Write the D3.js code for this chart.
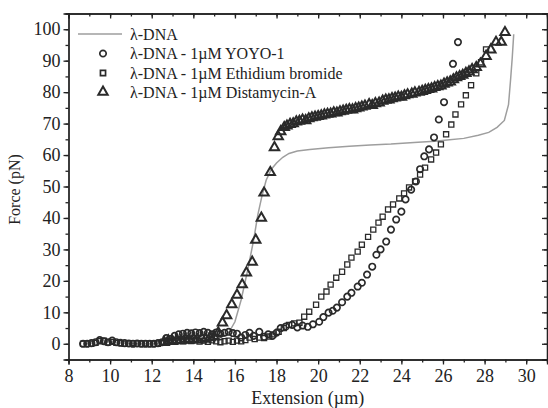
<!DOCTYPE html>
<html>
<head>
<meta charset="utf-8">
<script src="https://cdn.jsdelivr.net/npm/d3@7"></script>
<style>
  body { margin: 0; background: #fff; }
  text { font-family: "Liberation Serif", "Times New Roman", serif; fill: #222; }
  .axis path, .axis line { stroke: #222; stroke-width: 1.3; }
  .axis text { font-size: 18px; }
</style>
</head>
<body>
<div id="container"></div>
<script>
// λ-DNA (grey line)
const dnaX = [14.5, 15.2, 15.7, 16.0, 16.3, 16.6, 16.9, 17.1, 17.3, 17.5, 17.75, 18.0, 18.3, 18.6, 19.0, 19.6, 20.5, 21.5, 22.5, 23.5, 24.8, 25.6, 26.2, 27.0, 27.7, 28.2, 28.6, 28.95, 29.15, 29.25, 29.33, 29.4];
const dnaY = [0.5, 1.5, 3.5, 7, 14, 23, 33, 41, 47, 52, 55.5, 57.5, 59.3, 60.5, 61.3, 61.8, 62.3, 62.8, 63.2, 63.5, 64.1, 64.4, 64.8, 65.3, 66.3, 67.2, 68.8, 71, 76, 84, 91, 98.4];

// λ-DNA - 1µM YOYO-1 (circles)
const yoyoX = [8.7, 8.9, 9.1, 9.3, 9.5, 9.7, 9.9, 10.1, 10.3, 10.5, 10.7, 10.9, 11.1, 11.3, 11.5, 11.7, 11.9, 12.1, 12.3, 12.5, 12.7, 12.9, 13.1, 13.3, 13.5, 13.7, 13.9, 14.1, 14.3, 14.5, 14.7, 14.9, 15.1, 15.3, 15.5, 15.7, 15.9, 16.1, 16.3, 16.5, 16.7, 16.9, 17.17, 17.4, 17.6, 17.8, 18.0, 18.2, 18.45, 18.75, 19.0, 19.25, 19.5, 19.75, 20.05, 20.25, 20.5, 20.7, 20.9, 21.15, 21.4, 21.6, 21.9, 22.1, 22.35, 22.6, 22.8, 23.0, 23.27, 23.5, 23.75, 24.0, 24.2, 24.47, 24.7, 24.9, 25.1, 25.33, 25.57, 25.8, 26.05, 26.48, 26.72];
const yoyoY = [0, 0, 0.2, 0.5, 1.2, 0.8, 0.5, 1.0, 0.5, 0.3, 0.2, 0.1, 0, 0.1, 0, 0, 0, 0, 0.2, 0.5, 1.8, 1.5, 2.5, 3.0, 3.2, 3.5, 3.3, 3.6, 3.4, 3.8, 3.5, 3.0, 3.6, 3.2, 3.5, 3.8, 3.4, 3.2, 2.0, 2.8, 3.5, 2.5, 3.8, 2.2, 3.0, 2.5, 3.5, 5.0, 5.5, 6.0, 5.2, 5.8, 5.4, 6.2, 7.0, 8.5, 9.9, 10.5, 11.5, 13.2, 15.0, 16.2, 18.2, 19.4, 22.0, 24.5, 28.3, 30.0, 32.5, 36.3, 39.5, 42.0, 45.9, 49.0, 51.6, 55.5, 59.6, 61.8, 65.6, 71.3, 76.8, 89.0, 95.9];

// λ-DNA - 1µM Ethidium bromide (squares)
const etbrX = [8.7, 8.9, 9.1, 9.3, 9.5, 9.7, 9.9, 10.1, 10.3, 10.5, 10.7, 10.9, 11.1, 11.3, 11.5, 11.7, 11.9, 12.1, 12.3, 12.5, 12.7, 12.9, 13.1, 13.3, 13.5, 13.7, 13.9, 14.1, 14.3, 14.5, 14.7, 14.9, 15.1, 15.3, 15.5, 15.7, 15.9, 16.1, 16.3, 16.5, 16.7, 16.95, 17.17, 17.4, 17.65, 17.85, 18.1, 18.35, 18.6, 18.85, 19.1, 19.33, 19.57, 19.9, 20.15, 20.4, 20.6, 20.87, 21.15, 21.4, 21.6, 21.9, 22.1, 22.4, 22.65, 22.9, 23.1, 23.36, 23.6, 23.9, 24.13, 24.37, 24.66, 24.9, 25.14, 25.43, 25.67, 25.9, 26.15, 26.4, 26.6, 26.87, 27.1, 27.35, 27.6, 27.83, 28.07];
const etbrY = [0, 0, 0, 0.3, 0.8, 1.0, 0.4, 0.6, 0.3, 0.2, 0, 0, 0.2, 0, 0, 0.1, 0, 0, 0, 0.3, 0.8, 0.6, 0.9, 1.0, 0.8, 1.1, 0.9, 1.2, 0.7, 1.0, 0.6, 1.1, 0.8, 0.5, 0.8, 1.0, 0.6, 1.0, 0.8, 1.2, 2.0, 1.5, 2.0, 1.8, 2.3, 3.0, 3.8, 5.0, 6.0, 6.5, 6.7, 8.6, 10.2, 12.4, 15.0, 16.6, 18.8, 21.0, 22.9, 25.2, 27.4, 29.3, 31.5, 34.0, 36.3, 38.5, 40.4, 42.7, 44.3, 46.2, 47.8, 49.7, 51.6, 53.8, 56.0, 58.6, 60.8, 63.4, 66.6, 69.7, 72.9, 76.1, 79.0, 82.2, 86.0, 89.5, 93.6];

// λ-DNA - 1µM Distamycin-A (triangles)
const distX = [12.6, 12.8, 13.0, 13.2, 13.4, 13.6, 13.8, 14.0, 14.2, 14.4, 14.6, 14.8, 15.0, 15.2, 15.4, 15.6, 15.85, 16.1, 16.35, 16.55, 16.83, 17.0, 17.27, 17.4, 17.7, 17.9, 18.08, 18.2, 18.37, 18.5, 18.65, 18.8, 18.95, 19.1, 19.25, 19.4, 19.55, 19.7, 19.85, 20.0, 20.15, 20.3, 20.45, 20.6, 20.75, 20.9, 21.05, 21.2, 21.35, 21.5, 21.65, 21.8, 21.95, 22.1, 22.25, 22.45, 22.6, 22.75, 22.93, 23.1, 23.25, 23.4, 23.55, 23.7, 23.85, 24.0, 24.15, 24.3, 24.5, 24.65, 24.85, 25.0, 25.15, 25.3, 25.45, 25.6, 25.75, 25.9, 26.05, 26.2, 26.35, 26.5, 26.65, 26.8, 26.95, 27.1, 27.25, 27.4, 27.6, 27.8, 28.07, 28.3, 28.55, 28.8, 28.98];
const distY = [0.5, 1.0, 0.8, 1.2, 1.0, 1.5, 1.2, 1.6, 1.3, 1.8, 1.5, 2.0, 2.2, 3.5, 6.7, 9.0, 12.5, 15.5, 18.8, 22.6, 26.0, 33.0, 40.0, 48.0, 54.5, 62.4, 65.9, 67.5, 68.8, 69.3, 69.8, 70.0, 70.6, 70.8, 71.2, 71.0, 71.6, 71.9, 72.1, 72.3, 72.5, 72.8, 73.0, 73.1, 73.5, 73.4, 73.8, 74.0, 74.3, 74.5, 74.4, 74.8, 75.0, 75.3, 75.6, 76.1, 75.8, 76.4, 76.6, 77.2, 77.5, 77.6, 78.0, 78.2, 78.5, 78.4, 78.9, 79.2, 79.4, 79.8, 80.0, 80.3, 80.6, 80.9, 81.1, 81.5, 81.8, 82.0, 82.6, 83.0, 83.3, 84.0, 84.6, 85.0, 85.4, 86.0, 86.5, 87.2, 87.9, 89.0, 91.4, 93.5, 95.9, 95.9, 99.0];

const legendLabels = ["λ-DNA", "λ-DNA - 1µM YOYO-1", "λ-DNA - 1µM Ethidium bromide", "λ-DNA - 1µM Distamycin-A"];
const xTicks = [8, 10, 12, 14, 16, 18, 20, 22, 24, 26, 28, 30];
const yTicks = [0, 10, 20, 30, 40, 50, 60, 70, 80, 90, 100];

const width = 548;
const height = 408;
const margin = { top: 13.5, right: 1, bottom: 48.5, left: 68.5 };

const markColor = "#2a2a2a";

const svg = d3.select("#container")
  .append("svg")
  .attr("width", width)
  .attr("height", height);

const xScale = d3.scaleLinear()
  .domain([8, 31])
  .range([margin.left, width - margin.right]);

const yScale = d3.scaleLinear()
  .domain([-5, 105])
  .range([height - margin.bottom, margin.top]);

const xMinor = d3.range(8, 31.01, 1);
const yMinor = d3.range(-5, 105.01, 5);

// bottom axis
svg.append("g")
  .attr("class", "axis")
  .attr("transform", `translate(0, ${yScale(-5)})`)
  .call(d3.axisBottom(xScale).tickValues(xMinor).tickSize(3).tickFormat(""));
svg.append("g")
  .attr("class", "axis")
  .attr("transform", `translate(0, ${yScale(-5)})`)
  .call(d3.axisBottom(xScale).tickValues(xTicks).tickSize(5).tickPadding(5).tickFormat(d3.format("d")));

// top axis (ticks inside)
svg.append("g")
  .attr("class", "axis")
  .attr("transform", `translate(0, ${yScale(105)})`)
  .call(d3.axisTop(xScale).tickValues(xMinor).tickSize(-3).tickFormat(""));
svg.append("g")
  .attr("class", "axis")
  .attr("transform", `translate(0, ${yScale(105)})`)
  .call(d3.axisTop(xScale).tickValues(xTicks).tickSize(-5).tickFormat(""));

// left axis
svg.append("g")
  .attr("class", "axis")
  .attr("transform", `translate(${xScale(8)}, 0)`)
  .call(d3.axisLeft(yScale).tickValues(yMinor).tickSize(3).tickFormat(""));
svg.append("g")
  .attr("class", "axis")
  .attr("transform", `translate(${xScale(8)}, 0)`)
  .call(d3.axisLeft(yScale).tickValues(yTicks).tickSize(5).tickPadding(3).tickFormat(d3.format("d")));

// right axis (ticks inside)
svg.append("g")
  .attr("class", "axis")
  .attr("transform", `translate(${xScale(31)}, 0)`)
  .call(d3.axisRight(yScale).tickValues(yMinor).tickSize(-3).tickFormat(""));
svg.append("g")
  .attr("class", "axis")
  .attr("transform", `translate(${xScale(31)}, 0)`)
  .call(d3.axisRight(yScale).tickValues(yTicks).tickSize(-5).tickFormat(""));

svg.selectAll(".axis .domain").attr("stroke-width", 1.4);

// axis titles
svg.append("text")
  .attr("x", (xScale(8) + xScale(31)) / 2)
  .attr("y", 404)
  .attr("text-anchor", "middle")
  .style("font-size", "18px")
  .text("Extension (µm)");

svg.append("text")
  .attr("transform", `translate(20, ${(yScale(-5) + yScale(105)) / 2 + 3}) rotate(-90)`)
  .attr("text-anchor", "middle")
  .style("font-size", "16px")
  .text("Force (pN)");

// λ-DNA line
const line = d3.line()
  .x((d) => xScale(d[0]))
  .y((d) => yScale(d[1]));

svg.append("path")
  .datum(dnaX.map((x, i) => [x, dnaY[i]]))
  .attr("fill", "none")
  .attr("stroke", "#9e9e9e")
  .attr("stroke-width", 1.5)
  .attr("d", line);

const symCircle = d3.symbol().type(d3.symbolCircle).size(32);
const symSquare = d3.symbol().type(d3.symbolSquare).size(26);
const symTriangle = d3.symbol().type(d3.symbolTriangle).size(38);

function drawSeries(xs, ys, sym, sw) {
  svg.append("g")
    .selectAll("path")
    .data(xs.map((x, i) => [x, ys[i]]))
    .enter()
    .append("path")
    .attr("d", sym)
    .attr("transform", (d) => `translate(${xScale(d[0])}, ${yScale(d[1])})`)
    .attr("fill", "none")
    .attr("stroke", markColor)
    .attr("stroke-width", sw);
}

drawSeries(etbrX, etbrY, symSquare, 1.3);
drawSeries(yoyoX, yoyoY, symCircle, 1.7);
drawSeries(distX, distY, symTriangle, 2);

// legend
const legendY = [34, 53.5, 73, 92];
const legend = svg.append("g");

legend.append("line")
  .attr("x1", 78)
  .attr("x2", 122)
  .attr("y1", legendY[0])
  .attr("y2", legendY[0])
  .attr("stroke", "#9e9e9e")
  .attr("stroke-width", 1.5);

const legendSyms = [null, symCircle, symSquare, symTriangle];
legendSyms.forEach((s, i) => {
  if (!s) return;
  legend.append("path")
    .attr("d", s)
    .attr("transform", `translate(103, ${legendY[i]})`)
    .attr("fill", "none")
    .attr("stroke", markColor)
    .attr("stroke-width", i === 3 ? 2 : 1.7);
});

legend.selectAll("text")
  .data(legendLabels)
  .enter()
  .append("text")
  .attr("x", 130)
  .attr("y", (d, i) => legendY[i] + 5.5)
  .style("font-size", "16px")
  .text((d) => d);
</script>
</body>
</html>
